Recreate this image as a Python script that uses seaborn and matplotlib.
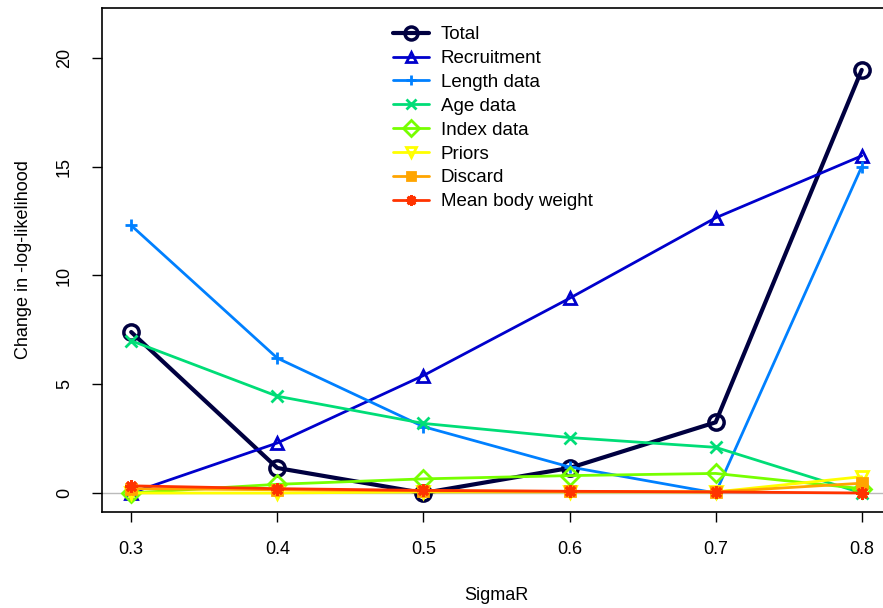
import numpy as np
import pandas as pd
import matplotlib
matplotlib.use("Agg")
import matplotlib.pyplot as plt
import seaborn as sns

# values
sigma_r = [0.3, 0.4, 0.5, 0.6, 0.7, 0.8]
total = [7.4, 1.15, 0.0, 1.15, 3.25, 19.45]
recruitment = [0.0, 2.3, 5.4, 8.95, 12.65, 15.5]
length_data = [12.3, 6.2, 3.05, 1.2, 0.0, 15.0]
age_data = [7.0, 4.45, 3.2, 2.55, 2.1, 0.0]
index_data = [0.0, 0.4, 0.65, 0.8, 0.9, 0.2]
priors = [0.0, 0.0, 0.05, 0.05, 0.05, 0.75]
discard = [0.2, 0.15, 0.1, 0.07, 0.05, 0.45]
mean_body_weight = [0.33, 0.2, 0.12, 0.08, 0.05, 0.0]

labels = ["Total", "Recruitment", "Length data", "Age data", "Index data",
          "Priors", "Discard", "Mean body weight"]
series = [total, recruitment, length_data, age_data, index_data,
          priors, discard, mean_body_weight]
colors = ["#000040", "#0000CC", "#0080FF", "#00DD77", "#77FF00",
          "#FFFF00", "#FFA500", "#FF3300"]
markers = ["o", "^", "+", "x", "D", "v", "s", (8, 2, 0)]

sns.set_style("ticks", {"text.color": "black", "axes.labelcolor": "black",
                        "xtick.color": "black", "ytick.color": "black",
                        "axes.edgecolor": "black"})
plt.rcParams["font.family"] = ["Liberation Sans", "DejaVu Sans"]

fig = plt.figure(figsize=(8.83, 6.08), dpi=100)
ax = fig.add_axes([0.1155, 0.158, 0.8935, 0.829])

ax.axhline(0, color="#BBBBBB", lw=1, zorder=0)

for lab, vals, col, mk in zip(labels, series, colors, markers):
    df = pd.DataFrame({"SigmaR": sigma_r, "value": vals})
    is_total = lab == "Total"
    filled = mk == "s"
    sns.lineplot(data=df, x="SigmaR", y="value", ax=ax, color=col,
                 lw=3 if is_total else 2, marker=mk,
                 markersize=11 if is_total else (7 if filled else 9),
                 markerfacecolor=col if filled else "none",
                 markeredgecolor=col, markeredgewidth=2.5 if is_total else 2,
                 label=lab)

ax.set_xlim(0.28, 0.82)
ax.set_ylim(-0.87, 22.3)
ax.set_xticks(sigma_r)
ax.set_xticklabels(["0.3", "0.4", "0.5", "0.6", "0.7", "0.8"])
ax.set_yticks([0, 5, 10, 15, 20])
ax.set_yticklabels(["0", "5", "10", "15", "20"], rotation=90, va="center")
ax.tick_params(axis="both", labelsize=13, length=7, width=1)
ax.tick_params(axis="x", pad=14)
ax.tick_params(axis="y", pad=14)
ax.set_xlabel("SigmaR", fontsize=13, labelpad=21)
ax.set_ylabel("Change in -log-likelihood", fontsize=13, labelpad=17)
for sp in ax.spines.values():
    sp.set_visible(True)
    sp.set_linewidth(1.2)
ax.spines["right"].set_visible(False)

ax.legend(loc="upper left", bbox_to_anchor=(0.352, 0.99), frameon=False,
          fontsize=13.5, handlelength=1.95, labelspacing=0.36,
          handletextpad=0.6, borderaxespad=0.3, markerscale=0.85)

fig.savefig("out.png", dpi=100)
